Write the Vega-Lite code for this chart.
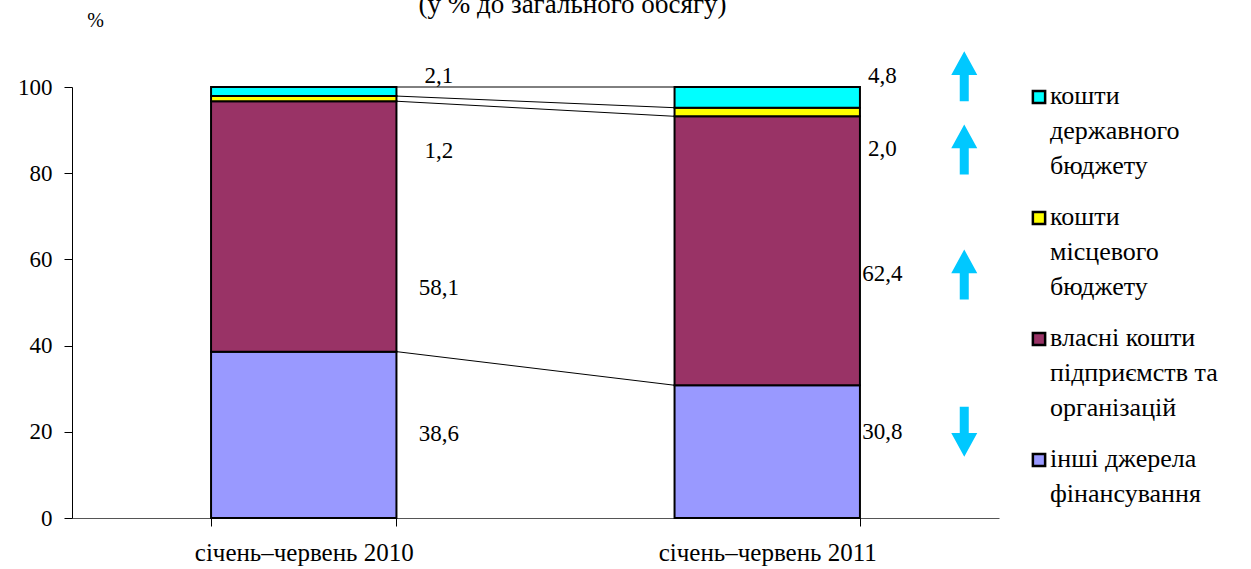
{
  "$schema": "https://vega.github.io/schema/vega-lite/v6.json",
  "width": 927,
  "height": 431,
  "autosize": {"type": "none"},
  "padding": {"left": 72, "top": 87, "right": 252, "bottom": 51},
  "config": {
    "locale": {"number": {"decimal": ",", "thousands": " ", "grouping": [3], "currency": ["", ""]}},
    "view": {"stroke": null},
    "font": "Liberation Serif",
    "style": {"guide-label": {"lineHeight": 35, "dy": 7}}
  },
  "title": {
    "text": "(у % до загального обсягу)",
    "font": "Liberation Serif",
    "fontSize": 27,
    "fontWeight": "normal",
    "color": "black",
    "anchor": "middle",
    "dx": 37,
    "offset": -9
  },
  "data": {
    "values": [
      {"period": "січень–червень 2010", "source": "інші джерела фінансування", "rank": 1, "value": 38.6, "labelY": 19.5, "trend": "none"},
      {"period": "січень–червень 2010", "source": "власні кошти підприємств та організацій", "rank": 2, "value": 58.1, "labelY": 53.4, "trend": "none"},
      {"period": "січень–червень 2010", "source": "кошти місцевого бюджету", "rank": 3, "value": 1.2, "labelY": 85.2, "trend": "none"},
      {"period": "січень–червень 2010", "source": "кошти державного бюджету", "rank": 4, "value": 2.1, "labelY": 102.6, "trend": "none"},
      {"period": "січень–червень 2011", "source": "інші джерела фінансування", "rank": 1, "value": 30.8, "labelY": 20.0, "trend": "down"},
      {"period": "січень–червень 2011", "source": "власні кошти підприємств та організацій", "rank": 2, "value": 62.4, "labelY": 56.5, "trend": "up"},
      {"period": "січень–червень 2011", "source": "кошти місцевого бюджету", "rank": 3, "value": 2.0, "labelY": 85.5, "trend": "up"},
      {"period": "січень–червень 2011", "source": "кошти державного бюджету", "rank": 4, "value": 4.8, "labelY": 102.5, "trend": "up"}
    ]
  },
  "encoding": {
    "x": {
      "field": "period",
      "type": "nominal",
      "sort": null,
      "scale": {"paddingInner": 0.6, "paddingOuter": 0.3},
      "axis": {
        "title": null,
        "labelAngle": 0,
        "labelFont": "Liberation Serif",
        "labelFontSize": 25,
        "labelColor": "black",
        "labelLimit": 400,
        "labelPadding": 7,
        "tickBand": "extent",
        "tickSize": 8,
        "tickColor": "black",
        "domainColor": "#555555",
        "grid": false
      }
    }
  },
  "layer": [
    {
      "data": {
        "values": [
          {"from": "січень–червень 2010", "to": "січень–червень 2011", "a": 38.6, "b": 30.8},
          {"from": "січень–червень 2010", "to": "січень–червень 2011", "a": 96.7, "b": 93.2},
          {"from": "січень–червень 2010", "to": "січень–червень 2011", "a": 97.9, "b": 95.2},
          {"from": "січень–червень 2010", "to": "січень–червень 2011", "a": 100, "b": 100}
        ]
      },
      "mark": {"type": "rule", "color": "black", "strokeWidth": 1, "xOffset": 92.7, "x2Offset": -92.7},
      "encoding": {
        "x": {"field": "from", "type": "nominal"},
        "x2": {"field": "to"},
        "y": {"field": "a", "type": "quantitative"},
        "y2": {"field": "b"}
      }
    },
    {
      "mark": {"type": "bar", "stroke": "black", "strokeWidth": 2},
      "encoding": {
        "y": {
          "field": "value",
          "type": "quantitative",
          "stack": "zero",
          "scale": {"domain": [0, 100], "nice": false},
          "axis": {
            "title": "%",
            "titleAngle": 0,
            "titleX": 23,
            "titleY": -67,
            "titleAlign": "center",
            "titleBaseline": "middle",
            "titleFont": "Liberation Serif",
            "titleFontSize": 20,
            "titleFontWeight": "normal",
            "titleColor": "black",
            "values": [0, 20, 40, 60, 80, 100],
            "labelFont": "Liberation Serif",
            "labelFontSize": 23,
            "labelColor": "black",
            "labelPadding": 12,
            "labelOffset": -7,
            "tickSize": 8,
            "tickColor": "black",
            "domainColor": "black",
            "grid": false
          }
        },
        "order": {"field": "rank", "type": "quantitative"},
        "color": {
          "field": "source",
          "type": "nominal",
          "scale": {
            "domain": ["кошти державного бюджету", "кошти місцевого бюджету", "власні кошти підприємств та організацій", "інші джерела фінансування"],
            "range": ["#00FFFF", "#FFFF00", "#993366", "#9999FF"]
          },
          "legend": {
            "title": null,
            "orient": "none",
            "legendX": 954,
            "legendY": -3,
            "symbolType": "square",
            "symbolSize": 150,
            "symbolStrokeColor": "black",
            "symbolStrokeWidth": 2.5,
            "symbolOpacity": 1,
            "labelFont": "Liberation Serif",
            "labelFontSize": 26,
            "labelColor": "black",
            "labelLimit": 300,
            "labelOffset": -2,
            "labelBaseline": "alphabetic",
            "rowPadding": 25,
            "labelExpr": "datum.label == 'кошти державного бюджету' ? ['кошти', 'державного', 'бюджету'] : datum.label == 'кошти місцевого бюджету' ? ['кошти', 'місцевого', 'бюджету'] : datum.label == 'інші джерела фінансування' ? ['інші джерела', 'фінансування'] : ['власні кошти', 'підприємств та', 'організацій']"
          }
        }
      }
    },
    {
      "transform": [{"filter": "datum.period == 'січень–червень 2010'"}],
      "mark": {"type": "text", "font": "Liberation Serif", "fontSize": 23, "color": "black", "dx": 135, "align": "center", "baseline": "middle"},
      "encoding": {
        "y": {"field": "labelY", "type": "quantitative"},
        "text": {"field": "value", "type": "quantitative", "format": ".1f"}
      }
    },
    {
      "transform": [{"filter": "datum.period == 'січень–червень 2011'"}],
      "mark": {"type": "text", "font": "Liberation Serif", "fontSize": 23, "color": "black", "dx": 115, "align": "center", "baseline": "middle"},
      "encoding": {
        "y": {"field": "labelY", "type": "quantitative"},
        "text": {"field": "value", "type": "quantitative", "format": ".1f"}
      }
    },
    {
      "transform": [{"filter": "datum.period == 'січень–червень 2011'"}],
      "mark": {"type": "point", "filled": true, "opacity": 1, "color": "#00C8FF", "size": 2500, "xOffset": 197},
      "encoding": {
        "y": {"field": "labelY", "type": "quantitative"},
        "shape": {
          "field": "trend",
          "type": "nominal",
          "scale": {
            "domain": ["up", "down"],
            "range": ["M-0.18,1L0.18,1L0.18,-0.05L0.52,-0.05L0,-1L-0.52,-0.05L-0.18,-0.05Z", "M-0.18,-1L0.18,-1L0.18,0.05L0.52,0.05L0,1L-0.52,0.05L-0.18,0.05Z"]
          },
          "legend": null
        }
      }
    }
  ]
}
